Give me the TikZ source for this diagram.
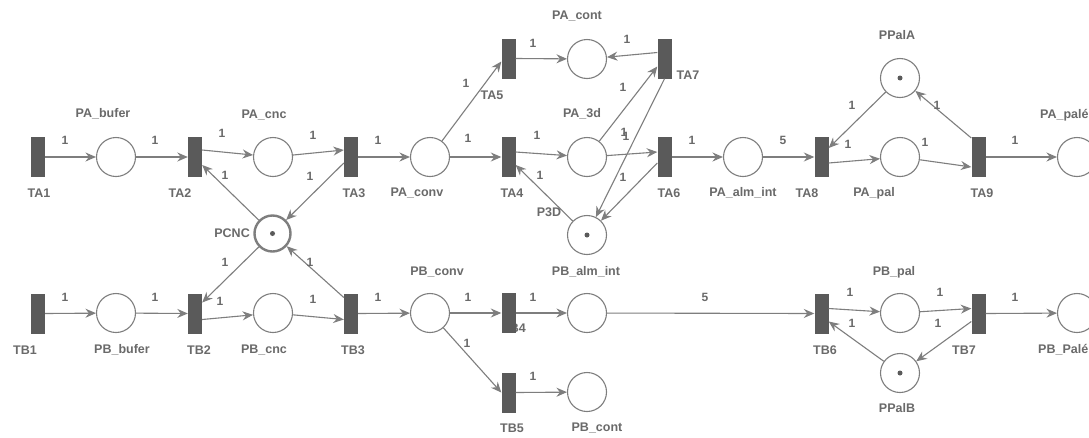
\documentclass[tikz,border=0pt]{standalone}
\usepackage{fontspec}
\setmainfont{Liberation Sans}
\usetikzlibrary{arrows.meta}
\definecolor{ln}{HTML}{7E7E7E}
\definecolor{tr}{HTML}{5A5A5A}
\definecolor{tx}{HTML}{6A6A6A}
\begin{document}
\begin{tikzpicture}[x=1pt,y=-1pt,
  trans/.style={rectangle,fill=tr,minimum width=14pt,minimum height=40pt,inner sep=0pt},
  place/.style={circle,draw=ln,line width=1.1pt,minimum size=39pt,inner sep=0pt,fill=white},
  arc/.style={draw=ln,line width=1.1pt,-{Stealth[length=10.5pt,width=9pt,inset=3.5pt]}},
  lbl/.style={text=tx,font=\fontsize{12.5}{14}\selectfont\bfseries,inner sep=0pt},
  wt/.style={text=tx,font=\fontsize{12}{14}\selectfont\bfseries,inner sep=0pt},
  tok/.style={circle,fill=tr,minimum size=5pt,inner sep=0pt}]
\fill[white] (0,0) rectangle (1089,437);
\clip (0,0) rectangle (1089,437);

% label hidden behind TB4
\node[lbl] (lTB4) at (514,328) {TB4};

% transitions
\node[trans] (TA1) at (38,157) {};
\node[trans] (TA2) at (195,157) {};
\node[trans] (TA3) at (351,157) {};
\node[trans] (TA4) at (508.5,157) {};
\node[trans] (TA5) at (508.5,58.5) {};
\node[trans] (TA6) at (664.5,157) {};
\node[trans] (TA7) at (664.5,58.5) {};
\node[trans] (TA8) at (821.5,157) {};
\node[trans] (TA9) at (978.5,157) {};
\node[trans] (TB1) at (38,313.5) {};
\node[trans] (TB2) at (195,313.5) {};
\node[trans] (TB3) at (351,313.5) {};
\node[trans] (TB4) at (508.5,313) {};
\node[trans] (TB5) at (508.5,392.5) {};
\node[trans] (TB6) at (821.5,313.5) {};
\node[trans] (TB7) at (978.5,313.5) {};

% places
\node[place] (PAbufer) at (116,157) {};
\node[place] (PAcnc) at (273,157) {};
\node[place,line width=2.4pt,minimum size=36pt] (PCNC) at (272.5,233.5) {};
\node[place] (PAconv) at (430,157) {};
\node[place] (PAcont) at (587,59) {};
\node[place] (PA3d) at (587,157) {};
\node[place] (P3D) at (587,235) {};
\node[place] (PAalm) at (743,157) {};
\node[place] (PPalA) at (900,78) {};
\node[place] (PApal) at (900,157) {};
\node[place] (PApale) at (1077,157) {};
\node[place] (PBbufer) at (116,313) {};
\node[place] (PBcnc) at (273,313) {};
\node[place] (PBconv) at (430,313) {};
\node[place] (PBalm) at (587,313) {};
\node[place] (PBcont) at (587,392) {};
\node[place] (PBpal) at (900,313) {};
\node[place] (PPalB) at (900,373) {};
\node[place] (PBpale) at (1077,313) {};

% tokens
\node[tok] (k1) at (PCNC.center) {};
\node[tok] (k2) at (P3D.center) {};
\node[tok] (k3) at (PPalA.center) {};
\node[tok] (k4) at (PPalB.center) {};

% arcs, top line
\draw[arc] (TA1.east) -- (PAbufer);
\draw[arc] (PAbufer) -- (TA2.west);
\draw[arc] ([yshift=7pt]TA2.east) -- (PAcnc);
\draw[arc] (PAcnc) -- ([yshift=7pt]TA3.west);
\draw[arc] ([yshift=-6pt]TA3.west) -- (PCNC);
\draw[arc] (PCNC) -- ([yshift=-8pt]TA2.east);
\draw[arc] (TA3.east) -- (PAconv);
\draw[arc] (PAconv) -- ([yshift=-3pt]TA5.west);
\draw[arc] (PAconv) -- (TA4.west);
\draw[arc] (TA5.east) -- (PAcont);
\draw[arc] ([yshift=6pt]TA7.west) -- (PAcont);
\draw[arc] ([yshift=5pt]TA4.east) -- (PA3d);
\draw[arc] (PA3d) -- ([yshift=-8pt]TA7.west);
\draw[arc] (PA3d) -- ([yshift=5pt]TA6.west);
\draw[arc] (TA7.south) -- (P3D);
\draw[arc] ([yshift=-6pt]TA6.west) -- (P3D);
\draw[arc] (P3D) -- ([yshift=-8pt]TA4.east);
\draw[arc] (TA6.east) -- (PAalm);
\draw[arc] (PAalm) -- (TA8.west);
\draw[arc] (PPalA) -- ([yshift=9pt]TA8.east);
\draw[arc] ([yshift=-6pt]TA8.east) -- (PApal);
\draw[arc] (PApal) -- ([yshift=-10pt]TA9.west);
\draw[arc] ([yshift=19pt]TA9.west) -- (PPalA);
\draw[arc] (TA9.east) -- (PApale);

% arcs, bottom line
\draw[arc] (TB1.east) -- (PBbufer);
\draw[arc] (PBbufer) -- (TB2.west);
\draw[arc] (PCNC) -- ([yshift=11pt]TB2.east);
\draw[arc] ([yshift=16pt]TB3.west) -- (PCNC);
\draw[arc] ([yshift=-6pt]TB2.east) -- (PBcnc);
\draw[arc] (PBcnc) -- ([yshift=-6pt]TB3.west);
\draw[arc] (TB3.east) -- (PBconv);
\draw[arc] (PBconv) -- (TB4.west);
\draw[arc] (TB4.east) -- (PBalm);
\draw[arc] (PBconv) -- (TB5.west);
\draw[arc] (TB5.east) -- (PBcont);
\draw[arc] (PBalm) -- (TB6.west);
\draw[arc] ([yshift=5pt]TB6.east) -- (PBpal);
\draw[arc] (PBpal) -- ([yshift=5pt]TB7.west);
\draw[arc] ([yshift=-8pt]TB7.west) -- (PPalB);
\draw[arc] (PPalB) -- ([yshift=-8pt]TB6.east);
\draw[arc] (TB7.east) -- (PBpale);

% names
\node[lbl] (lTA1) at (39,193) {TA1};
\node[lbl] (lTA2) at (180,193) {TA2};
\node[lbl] (lTA3) at (354,193) {TA3};
\node[lbl] (lTA4) at (512,193) {TA4};
\node[lbl] (lTA5) at (492,95) {TA5};
\node[lbl] (lTA6) at (669,193) {TA6};
\node[lbl] (lTA7) at (688,75) {TA7};
\node[lbl] (lTA8) at (807,193) {TA8};
\node[lbl] (lTA9) at (982,193) {TA9};
\node[lbl] (lTB1) at (25,350) {TB1};
\node[lbl] (lTB2) at (199,350) {TB2};
\node[lbl] (lTB3) at (353,350) {TB3};
\node[lbl] (lTB5) at (512,428) {TB5};
\node[lbl] (lTB6) at (825,350) {TB6};
\node[lbl] (lTB7) at (964,350) {TB7};
\node[lbl] (lPAbufer) at (103,114) {PA\_bufer};
\node[lbl] (lPAcnc) at (264,115) {PA\_cnc};
\node[lbl,anchor=east] (lPCNC) at (250,233) {PCNC};
\node[lbl] (lPAconv) at (417,193) {PA\_conv};
\node[lbl] (lPAcont) at (577,16) {PA\_cont};
\node[lbl] (lPA3d) at (582,114) {PA\_3d};
\node[lbl] (lP3D) at (549,212) {P3D};
\node[lbl] (lPAalm) at (743,193) {PA\_alm\_int};
\node[lbl] (lPPalA) at (897,35) {PPalA};
\node[lbl] (lPApal) at (874,193) {PA\_pal};
\node[lbl,anchor=west] (lPApale) at (1040,115) {PA\_palé};
\node[lbl] (lPBbufer) at (122,350) {PB\_bufer};
\node[lbl] (lPBcnc) at (264,350) {PB\_cnc};
\node[lbl] (lPBconv) at (437,272) {PB\_conv};
\node[lbl] (lPBalm) at (586,272) {PB\_alm\_int};
\node[lbl] (lPBcont) at (597,428) {PB\_cont};
\node[lbl] (lPBpal) at (894,272) {PB\_pal};
\node[lbl] (lPPalB) at (897,408) {PPalB};
\node[lbl,anchor=west] (lPBpale) at (1038,350) {PB\_Palé};

% weights
\foreach \x/\y/\t [count=\i] in {65/140/1,155/140/1,222/133/1,313/135/1,225/175/1,310/176/1,
  378/140/1,466/83/1,468/138/1,533/43/1,627/39/1,537/135/1,623/87/1,624/132/1,626/136/1,
  692/140/1,540/175/1,623/177/1,783/140/5,852/105/1,937/105/1,848/144/1,925/142/1,1015/140/1,
  65/297/1,155/297/1,225/262/1,310/262/1,220/301/1,313/299/1,378/297/1,468/297/1,533/297/1,
  467/343/1,533/376/1,705/297/5,850/292/1,940/292/1,938/323/1,852/323/1,1015/297/1}
  \node[wt] (w\i) at (\x,\y) {\t};
\end{tikzpicture}
\end{document}
